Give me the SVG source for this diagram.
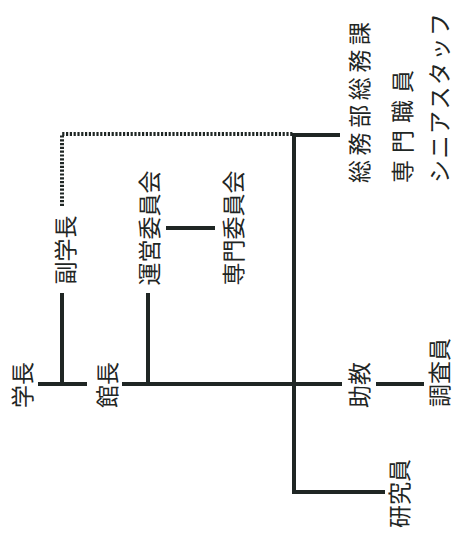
<svg xmlns="http://www.w3.org/2000/svg" width="454" height="537" viewBox="0 0 454 537">
<style>
.t{font-family:"Noto Sans CJK JP","Noto Sans CJK SC",sans-serif;font-size:23px;fill:#1f2624;dominant-baseline:central}
.m{text-anchor:middle}
.s{text-anchor:start}
.l{stroke:#1f2624;stroke-width:4;fill:none}
.d{stroke:#1f2624;stroke-width:4;fill:none;stroke-dasharray:2.2 1.6}
</style>
<rect width="454" height="537" fill="#fff"/>
<g id="connectors">
<path class="d" d="M62 206 V134 H293"/>
<path class="l" d="M340 135 H294 V492 H385"/>
<path class="l" d="M38 384 H87"/>
<path class="l" d="M62 293 V384"/>
<path class="l" d="M122 384 H342"/>
<path class="l" d="M148 293 V384"/>
<path class="l" d="M376 384 H424"/>
<path class="l" d="M166 228 H215"/>
</g>
<g id="gakucho"><text class="t m" transform="translate(21 385) rotate(-90)">学長</text></g>
<g id="kancho"><text class="t m" transform="translate(106 385) rotate(-90)">館長</text></g>
<g id="fukugakucho"><text class="t m" transform="translate(63.5 250) rotate(-90)">副学長</text></g>
<g id="uneiiinkai"><text class="t m" transform="translate(148 228) rotate(-90)">運営委員会</text></g>
<g id="senmoniinkai"><text class="t m" transform="translate(231.5 228) rotate(-90)">専門委員会</text></g>
<g id="jokyo"><text class="t m" transform="translate(358 385) rotate(-90)">助教</text></g>
<g id="chosain"><text class="t m" transform="translate(438 372.5) rotate(-90)">調査員</text></g>
<g id="kenkyuin"><text class="t m" transform="translate(398 493.5) rotate(-90)">研究員</text></g>
<g id="somuka"><text class="t s" transform="translate(357.5 183) rotate(-90)" letter-spacing="4.6">総務部総務課</text></g>
<g id="senmonshokuin"><text class="t s" transform="translate(401 183) rotate(-90)" letter-spacing="7">専門職員</text></g>
<g id="seniorstaff"><text class="t s" transform="translate(438 183) rotate(-90)" letter-spacing="1.5">シニアスタッフ</text></g>
</svg>
